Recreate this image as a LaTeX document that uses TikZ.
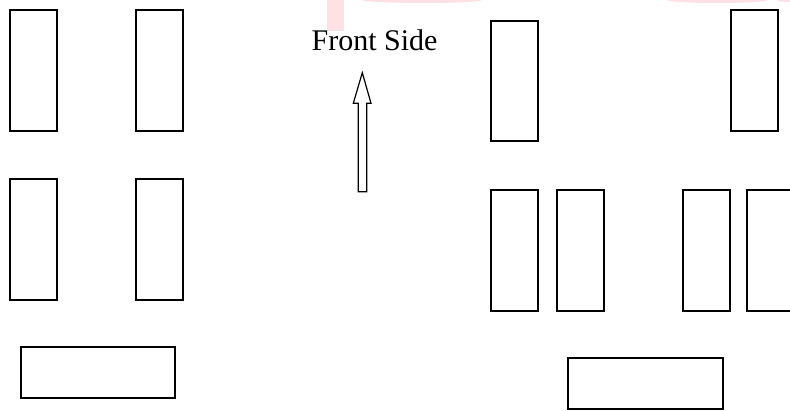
\documentclass[tikz,border=0pt]{standalone}
\usepackage{fontspec}
\setmainfont{Liberation Serif}
\definecolor{wmpink}{RGB}{255,224,228}
\tikzset{
  box/.style={draw=black, line width=1.2pt, inner sep=0pt, outer sep=0pt, anchor=north west, fill=none},
  tall/.style={box, minimum width=47pt, minimum height=121pt},
  wide/.style={box, minimum width=154pt, minimum height=51pt},
  label/.style={font=\fontsize{30}{32}\selectfont, anchor=base, inner sep=0pt},
}
\begin{document}
\begin{tikzpicture}[x=1pt,y=-1pt]
\useasboundingbox (0,0) rectangle (790,410);
\clip (0,0) rectangle (790,410);
% faint watermark fragments
\fill[wmpink] (327,0) rectangle (344,31);
\fill[wmpink] (422,0) ellipse [x radius=60, y radius=3];
\fill[wmpink] (717,0) ellipse [x radius=50, y radius=3];
\fill[wmpink] (790,0) ellipse [x radius=13, y radius=2];
% left group
\node[tall] (L1) at (10,10) {};
\node[tall] (L2) at (136,10) {};
\node[tall] (L3) at (10,179) {};
\node[tall] (L4) at (136,179) {};
\node[wide] (L5) at (21,347) {};
% right group
\node[tall, minimum height=120pt] (R1) at (491,21) {};
\node[tall] (R2) at (731,10) {};
\node[tall] (R3) at (491,190) {};
\node[tall] (R4) at (557,190) {};
\node[tall] (R5) at (683,190) {};
\node[tall] (R6) at (747,190) {};
\node[wide, minimum width=155pt] (R7) at (568,358) {};
% label and arrow
\node[label] (front) at (374.5,50) {Front Side};
\draw[line width=1.2pt, line join=miter] (358.3,191.7) -- (358.3,103.3) -- (353.3,103.3) -- (362.3,72.7) -- (371,103.3) -- (366.7,103.3) -- (366.7,191.7) -- cycle;
\end{tikzpicture}
\end{document}
